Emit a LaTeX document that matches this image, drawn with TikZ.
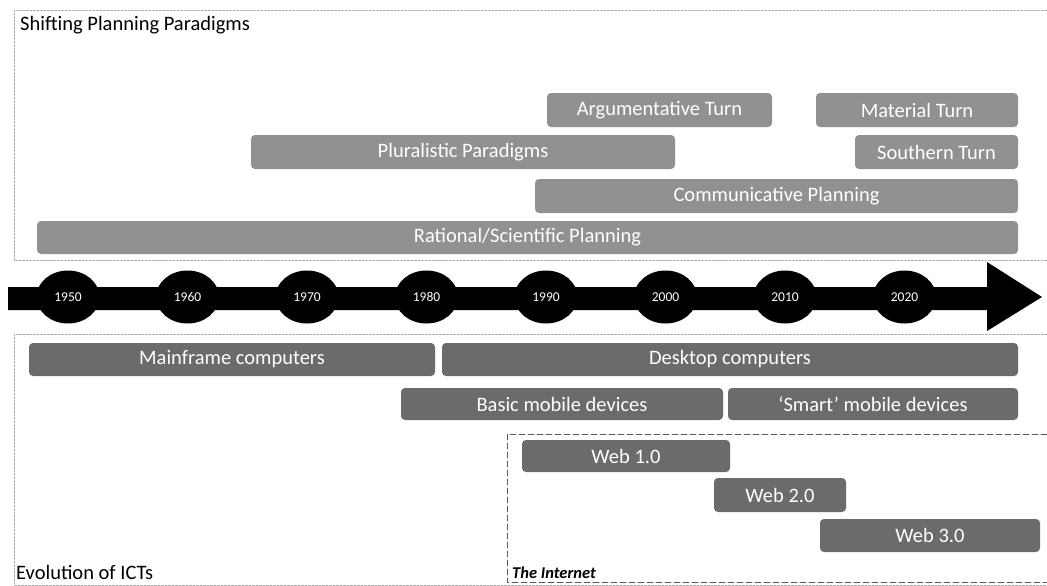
\documentclass[tikz,border=0pt]{standalone}
\usepackage{fontspec}
\setmainfont{Carlito}
\usepackage{tikz}
\usetikzlibrary{shapes.geometric}

\begin{document}
\begin{tikzpicture}[x=1pt,y=-1pt,line cap=round,line join=round,
  paradigm/.style={fill=black!43,rounded corners=4pt,inner sep=0pt,text=white,
    minimum height=34pt,font=\fontsize{20.5}{24}\selectfont},
  ictbar/.style={fill=black!58,rounded corners=4pt,inner sep=0pt,text=white,
    minimum height=33pt,font=\fontsize{20.5}{24}\selectfont},
  yearnode/.style={ellipse,fill=black,text=white,minimum width=63pt,minimum height=53pt,
    inner sep=0pt,font=\fontsize{13.5}{15}\selectfont},
  panel/.style={draw=black!35,line width=0.7pt,dash pattern=on 2pt off 1.5pt},
  webpanel/.style={draw=black!65,line width=0.8pt,dash pattern=on 6pt off 3pt}]
\useasboundingbox (0,0) rectangle (1047,586);

% panels
\draw[panel] (1047,10) -- (14,10) -- (14,260) -- (1047,260);
\draw[panel] (1047,334) -- (14,334) -- (14,585) -- (1047,585);
\draw[webpanel] (1047,434) -- (507,434) -- (507,582) -- (1047,582);
\node[anchor=base west,inner sep=0pt,font=\fontsize{20.5}{24}\selectfont] (ttlplan) at (20,31) {Shifting Planning Paradigms};
\node[anchor=base west,inner sep=0pt,font=\fontsize{20.5}{24}\selectfont] (ttlict) at (16,579) {Evolution of ICTs};
\node[anchor=base west,inner sep=0pt,font=\fontsize{16.5}{18}\selectfont\bfseries\itshape] (ttlweb) at (512,578) {The Internet};

% paradigms
\node[paradigm,minimum width=225pt] (argturn) at (659.5,110) {Argumentative Turn};
\node[paradigm,minimum width=202pt] (matturn) at (917,110) {Material Turn};
\node[paradigm,minimum width=424pt] (plural) at (463,152) {Pluralistic Paradigms};
\node[paradigm,minimum width=163pt] (southturn) at (936.5,152) {Southern Turn};
\node[paradigm,minimum width=483pt] (commplan) at (776.5,196) {Communicative Planning};
\node[paradigm,minimum width=981pt,minimum height=33pt] (ratplan) at (527.5,237.5) {Rational/Scientific Planning};

% timeline
\fill (8,287) -- (987,287) -- (987,262) -- (1042,297) -- (987,331) -- (987,310) -- (8,310) -- cycle;
\foreach \yr [count=\i from 0] in {1950,1960,1970,1980,1990,2000,2010,2020}
\node[yearnode] (y\yr) at (68+119.5*\i,297) {\yr};

% ICTs
\node[ictbar,minimum width=406pt] (mainframe) at (232,359.5) {Mainframe computers};
\node[ictbar,minimum width=576pt] (desktop) at (730,359.5) {Desktop computers};
\node[ictbar,minimum width=322pt,minimum height=32pt] (basicmob) at (562,404) {Basic mobile devices};
\node[ictbar,minimum width=290pt,minimum height=32pt] (smartmob) at (873,404) {`Smart' mobile devices};
\node[ictbar,minimum width=208pt,minimum height=32pt] (webone) at (626,456) {Web 1.0};
\node[ictbar,minimum width=132pt,minimum height=34pt] (webtwo) at (780,495) {Web 2.0};
\node[ictbar,minimum width=220pt] (webthree) at (930,535.5) {Web 3.0};

\end{tikzpicture}
\end{document}
